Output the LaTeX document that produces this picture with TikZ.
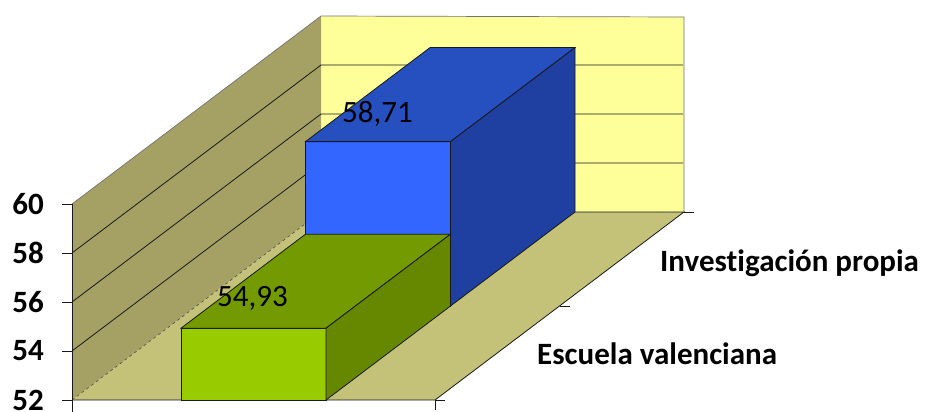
\documentclass[tikz,border=0pt]{standalone}
\usepackage{fontspec}
\setmainfont{Carlito}[Ligatures=CommonOff]
\usetikzlibrary{calc}

\definecolor{backwall}{RGB}{255,255,153}
\definecolor{sidewall}{RGB}{165,161,101}
\definecolor{floorcol}{RGB}{196,193,121}
\definecolor{greenfront}{RGB}{153,204,0}
\definecolor{greentop}{RGB}{115,154,0}
\definecolor{greenside}{RGB}{101,136,0}
\definecolor{bluefront}{RGB}{51,102,255}
\definecolor{bluetop}{RGB}{38,80,192}
\definecolor{blueside}{RGB}{31,64,160}

\begin{document}
\begin{tikzpicture}[x=1pt,y=-1pt,
        wall/.style={draw=black!55,line width=0.7pt},
        face/.style={draw=black!90,line width=0.8pt},
        grid/.style={draw=black!90,line width=0.8pt},
        axistext/.style={font=\fontsize{31}{36}\selectfont\bfseries,inner sep=0pt},
        valuetext/.style={font=\fontsize{31}{36}\selectfont,inner sep=0pt}]
                \useasboundingbox (0,0) rectangle (926,412);

                \coordinate (F0) at (72,400);
                \coordinate (F1) at (435,400);
                \coordinate (T0) at (72,204);
                \coordinate (dep) at (249,-188);
                \coordinate (half) at (124.5,-94);

                \coordinate (B0) at ($(F0)+(dep)$);
                \coordinate (B1) at ($(F1)+(dep)$);
                \coordinate (BT0) at ($(T0)+(dep)$);
                \coordinate (BT1) at ($(B1)+(0,-195)$);

                \fill[backwall] (B0) -- (B1) -- (BT1) -- (BT0) -- cycle;
                \fill[sidewall] (F0) -- (B0) -- (BT0) -- (T0) -- cycle;
                \fill[floorcol] (F0) -- (F1) -- (B1) -- (B0) -- cycle;

                \draw[wall] (T0) -- (BT0) -- (BT1) -- (B1);
                \draw[black!70,dashed,line width=0.6pt] (F0) -- (B0);
                \draw[face] (F0) -- (F1) -- (B1) -- (B0);

                \foreach \v in {54,56,58}
                    \draw[grid] (72,{400-(\v-52)*24.5}) -- ++(249,-188) -- ++(362,0);

                \draw[face] (72,412) -- (T0);
                \foreach \v in {52,54,...,60}{
                    \draw[face] (62,{400-(\v-52)*24.5}) -- ++(10,0);
                    \node[axistext,anchor=east] (y\v) at (44,{400-(\v-52)*24.5}) {\v};
                }
                \draw[face] (F0) -- ++(0,10);
                \draw[face] (F1) -- ++(0,10);
                \draw[face] (F1) -- ++(10,0);
                \draw[face] ($(F1)+(half)$) -- ++(10,0);
                \draw[face] (B1) -- ++(10,0);

                \coordinate (H1) at (305.5,306);
                \coordinate (H2) at (450.5,306);
                \coordinate (H3) at (450.5,141.6);
                \coordinate (H4) at (305.5,141.6);
                \coordinate (H5) at ($(H4)+(half)$);
                \coordinate (H6) at ($(H3)+(half)$);
                \coordinate (H7) at ($(H2)+(half)$);

                \draw[face,fill=bluefront] (H1) -- (H2) -- (H3) -- (H4) -- cycle;
                \draw[face,fill=bluetop] (H4) -- (H3) -- (H6) -- (H5) -- cycle;
                \draw[face,fill=blueside] (H2) -- (H7) -- (H6) -- (H3) -- cycle;

                \coordinate (G1) at (181,400);
                \coordinate (G2) at (326,400);
                \coordinate (G3) at (326,328.2);
                \coordinate (G4) at (181,328.2);
                \coordinate (G5) at ($(G4)+(half)$);
                \coordinate (G6) at ($(G3)+(half)$);
                \coordinate (G7) at ($(G2)+(half)$);

                \draw[face,fill=greenfront] (G1) -- (G2) -- (G3) -- (G4) -- cycle;
                \draw[face,fill=greentop] (G4) -- (G3) -- (G6) -- (G5) -- cycle;
                \draw[face,fill=greenside] (G2) -- (G7) -- (G6) -- (G3) -- cycle;

                \node[valuetext,anchor=base west] (valG) at (217,306.5) {54,93};
                \node[valuetext,anchor=base west] (valH) at (342,122.5) {58,71};
                \node[axistext,anchor=base west] (catG) at (537,364) {Escuela valenciana};
                \node[axistext,anchor=base west] (catH) at (660,271) {Investigación propia};
            \end{tikzpicture}
\end{document}
